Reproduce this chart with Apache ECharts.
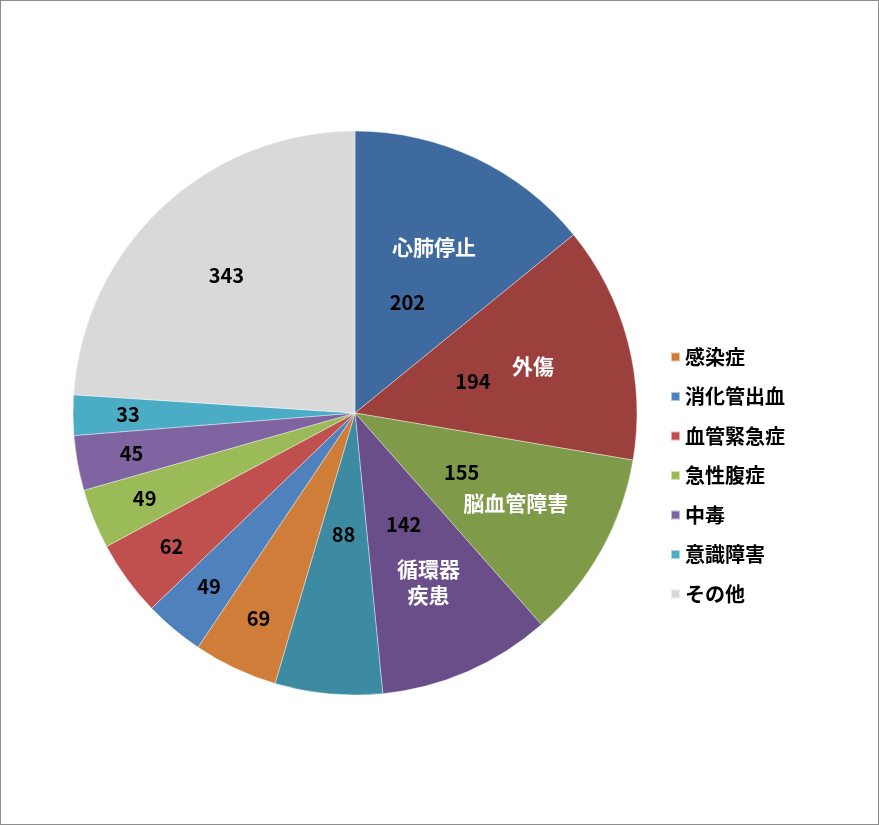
<!DOCTYPE html>
<html>
<head>
<meta charset="utf-8">
<script src="https://cdn.jsdelivr.net/npm/echarts@6/dist/echarts.min.js"></script>
<style>
  html, body { margin: 0; padding: 0; background: #fff; }
  #chart { width: 877px; height: 823px; border: 1px solid #8c8c8c; }
</style>
</head>
<body>
<div id="chart"></div>
<script>
// ---- data ----
const categories = ['心肺停止', '外傷', '脳血管障害', '循環器疾患', '', '感染症', '消化管出血', '血管緊急症', '急性腹症', '中毒', '意識障害', 'その他'];
const values = [202, 194, 155, 142, 88, 69, 49, 62, 49, 45, 33, 343];
const sliceLabels = ['心肺停止', '外傷', '脳血管障害', '循環器\n疾患'];
const colors = ['#3F6A9F', '#9C403E', '#7F9A48', '#6A4E89', '#3C8BA3', '#CF7D38',
                '#4F81BD', '#C0504D', '#9BBB59', '#8064A2', '#4BACC6', '#D9D9D9'];
const legendNames = categories.slice(5);

// ---- chart ----
const FONT = '"Noto Sans CJK JP", "Noto Sans", sans-serif';
const center = [354, 412];
const R = 282;

function overlay(radius, showFn, formatter, color, size) {
  return {
    type: 'pie', radius: radius, center: center, startAngle: 90, clockwise: true,
    silent: true, animation: false, legendHoverLink: false,
    emphasis: { disabled: true }, tooltip: { show: false },
    itemStyle: { color: 'rgba(0,0,0,0)', borderWidth: 0 },
    labelLine: { show: false },
    data: categories.map((n, i) => ({
      name: n, value: values[i],
      label: {
        show: showFn(i), position: 'inside', formatter: formatter(i),
        color: color, fontFamily: FONT, fontWeight: 'bold', fontSize: size, lineHeight: 26
      }
    }))
  };
}

const chart = echarts.init(document.getElementById('chart'));
chart.setOption({
  animation: false,
  backgroundColor: '#fff',
  legend: {
    orient: 'vertical', left: 664, top: 341,
    itemWidth: 9, itemHeight: 9, itemGap: 19.5, itemTextGap: 8,
    icon: 'rect',
    data: legendNames,
    textStyle: { fontFamily: FONT, fontWeight: 'bold', fontSize: 20, color: '#000', lineHeight: 20 }
  },
  series: [
    {
      type: 'pie', radius: R, center: center, startAngle: 90, clockwise: true,
      animation: false,
      label: { show: false }, labelLine: { show: false },
      itemStyle: { borderColor: 'rgba(255,255,255,0.55)', borderWidth: 0.7 },
      data: categories.map((n, i) => ({ name: n, value: values[i], itemStyle: { color: colors[i] } }))
    },
    overlay([0, 238], i => i <= 4, i => String(values[i]), '#000', 20),
    overlay([166, 282], i => i >= 5 && i <= 10, i => String(values[i]), '#000', 20),
    overlay([0, 370], i => i === 11, i => String(values[i]), '#000', 20),
    overlay([80, 282], i => i <= 3, i => sliceLabels[i] || '', '#fff', 21)
  ]
});
</script>
</body>
</html>
